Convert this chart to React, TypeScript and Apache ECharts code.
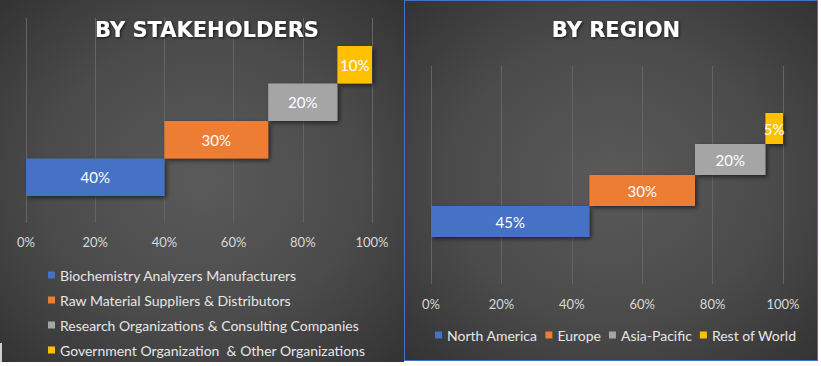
import React, { useEffect, useRef } from "react";
import * as echarts from "echarts";

const stakeholderCategories = [
  "Biochemistry Analyzers Manufacturers",
  "Raw Material Suppliers & Distributors",
  "Research Organizations & Consulting Companies",
  "Government Organization  & Other Organizations",
];
const stakeholderValues = [40, 30, 20, 10];

const regionCategories = ["North America", "Europe", "Asia-Pacific", "Rest of World"];
const regionValues = [45, 30, 20, 5];

const axisTicks = [0, 20, 40, 60, 80, 100];

const colors = ["#4472C4", "#ED7D31", "#A5A5A5", "#FFC000"];
const FONT = "Lato";

function buildWaterfall(names: string[], values: number[], gridIndex: number, axisIndex: number) {
  const bases: number[] = [];
  let acc = 0;
  values.forEach((v) => {
    bases.push(acc);
    acc += v;
  });
  const stack = "s" + gridIndex;
  const series: any[] = [
    {
      type: "bar",
      name: "base" + gridIndex,
      xAxisIndex: axisIndex,
      yAxisIndex: axisIndex,
      stack,
      data: bases,
      barCategoryGap: "0%",
      itemStyle: { color: "transparent" },
      label: { show: false },
      emphasis: { disabled: true },
      silent: true,
    },
  ];
  names.forEach((n, i) => {
    series.push({
      type: "bar",
      name: n,
      xAxisIndex: axisIndex,
      yAxisIndex: axisIndex,
      stack,
      barCategoryGap: "0%",
      data: values.map((v, j) => (j === i ? v : "-")),
      itemStyle: {
        color: colors[i],
        shadowColor: "rgba(0,0,0,0.55)",
        shadowBlur: 4,
        shadowOffsetX: 2,
        shadowOffsetY: 2,
      },
      label: {
        show: true,
        position: "inside",
        formatter: "{c}%",
        color: "#ffffff",
        fontFamily: FONT,
        fontSize: 15,
      },
    });
  });
  return series;
}

export default function App() {
  const ref = useRef<HTMLDivElement>(null);
  useEffect(() => {
    if (!ref.current) return;
    const chart = echarts.init(ref.current, undefined, { renderer: "svg" });
    const W = 821;
    const H = 366;
    const valueAxisVisible = (grid: number, margin: number) => ({
      type: "value",
      gridIndex: grid,
      min: axisTicks[0],
      max: axisTicks[axisTicks.length - 1],
      interval: 20,
      axisLine: { show: false },
      axisTick: { show: false },
      axisLabel: {
        formatter: "{value}%",
        color: "#d9d9d9",
        fontFamily: FONT,
        fontSize: 13,
        margin,
      },
      splitLine: { show: true, lineStyle: { color: "#646464", width: 1 } },
    });
    const valueAxisHidden = (grid: number) => ({
      type: "value",
      gridIndex: grid,
      min: 0,
      max: 100,
      show: false,
      splitLine: { show: false },
    });
    const catAxis = (grid: number, data: string[], show: boolean) => ({
      type: "category",
      gridIndex: grid,
      data,
      show,
      axisLine: { show: false },
      axisTick: { show: false },
      axisLabel: { show: false },
    });
    const titleStyle = {
      color: "#ffffff",
      fontFamily: "DejaVu Sans",
      fontWeight: "bold",
      fontSize: 21,
      textShadowColor: "rgba(0,0,0,0.7)",
      textShadowBlur: 3,
      textShadowOffsetX: 1,
      textShadowOffsetY: 1,
    };
    const option: any = {
      animation: false,
      backgroundColor: "transparent",
      title: [
        { text: "BY STAKEHOLDERS", left: 202, top: 14, textAlign: "center", textStyle: titleStyle },
        { text: "BY REGION", left: 611, top: 14, textAlign: "center", textStyle: titleStyle },
      ],
      legend: [
        {
          orient: "vertical",
          left: 43,
          top: 262,
          height: 110,
          itemWidth: 7,
          itemHeight: 7,
          itemGap: 9,
          icon: "rect",
          data: stakeholderCategories,
          textStyle: { color: "#e6e6e6", fontFamily: FONT, fontSize: 14, lineHeight: 16 },
        },
        {
          orient: "horizontal",
          left: 430,
          top: 322,
          itemWidth: 7,
          itemHeight: 7,
          itemGap: 8,
          icon: "rect",
          data: regionCategories,
          textStyle: { color: "#e6e6e6", fontFamily: FONT, fontSize: 14, lineHeight: 16 },
        },
      ],
      grid: [
        { left: 26, right: W - 372, top: 18, bottom: H - 223 },
        { left: 26, right: W - 372, top: 46, bottom: H - 196 },
        { left: 431, right: W - 783, top: 66, bottom: H - 284 },
        { left: 431, right: W - 783, top: 113, bottom: H - 237 },
      ],
      xAxis: [
        valueAxisVisible(0, 12),
        valueAxisHidden(1),
        valueAxisVisible(2, 13),
        valueAxisHidden(3),
      ],
      yAxis: [
        catAxis(0, ["a"], false),
        catAxis(1, stakeholderCategories, false),
        catAxis(2, ["a"], false),
        catAxis(3, regionCategories, false),
      ],
      series: [
        ...buildWaterfall(stakeholderCategories, stakeholderValues, 1, 1),
        ...buildWaterfall(regionCategories, regionValues, 3, 3),
      ],
    };
    chart.setOption(option);
    return () => chart.dispose();
  }, []);

  const bg = "radial-gradient(ellipse at center, #5a5a5a 0%, #4b4b4b 55%, #333333 100%)";
  return (
    <div style={{ position: "fixed", left: 0, top: 0, width: 821, height: 366, background: "#ffffff" }}>
      <div style={{ position: "absolute", left: 0, top: 0, width: 404, height: 362, background: bg }} />
      <div style={{ position: "absolute", left: 0, top: 343, width: 2, height: 19, background: "#d0d0d0" }} />
      <div
        style={{
          position: "absolute",
          left: 404,
          top: 0,
          width: 414,
          height: 361,
          background: bg,
          border: "1px solid #4472C4",
          boxSizing: "border-box",
        }}
      />
      <div ref={ref} style={{ position: "absolute", left: 0, top: 0, width: 821, height: 366 }} />
    </div>
  );
}
